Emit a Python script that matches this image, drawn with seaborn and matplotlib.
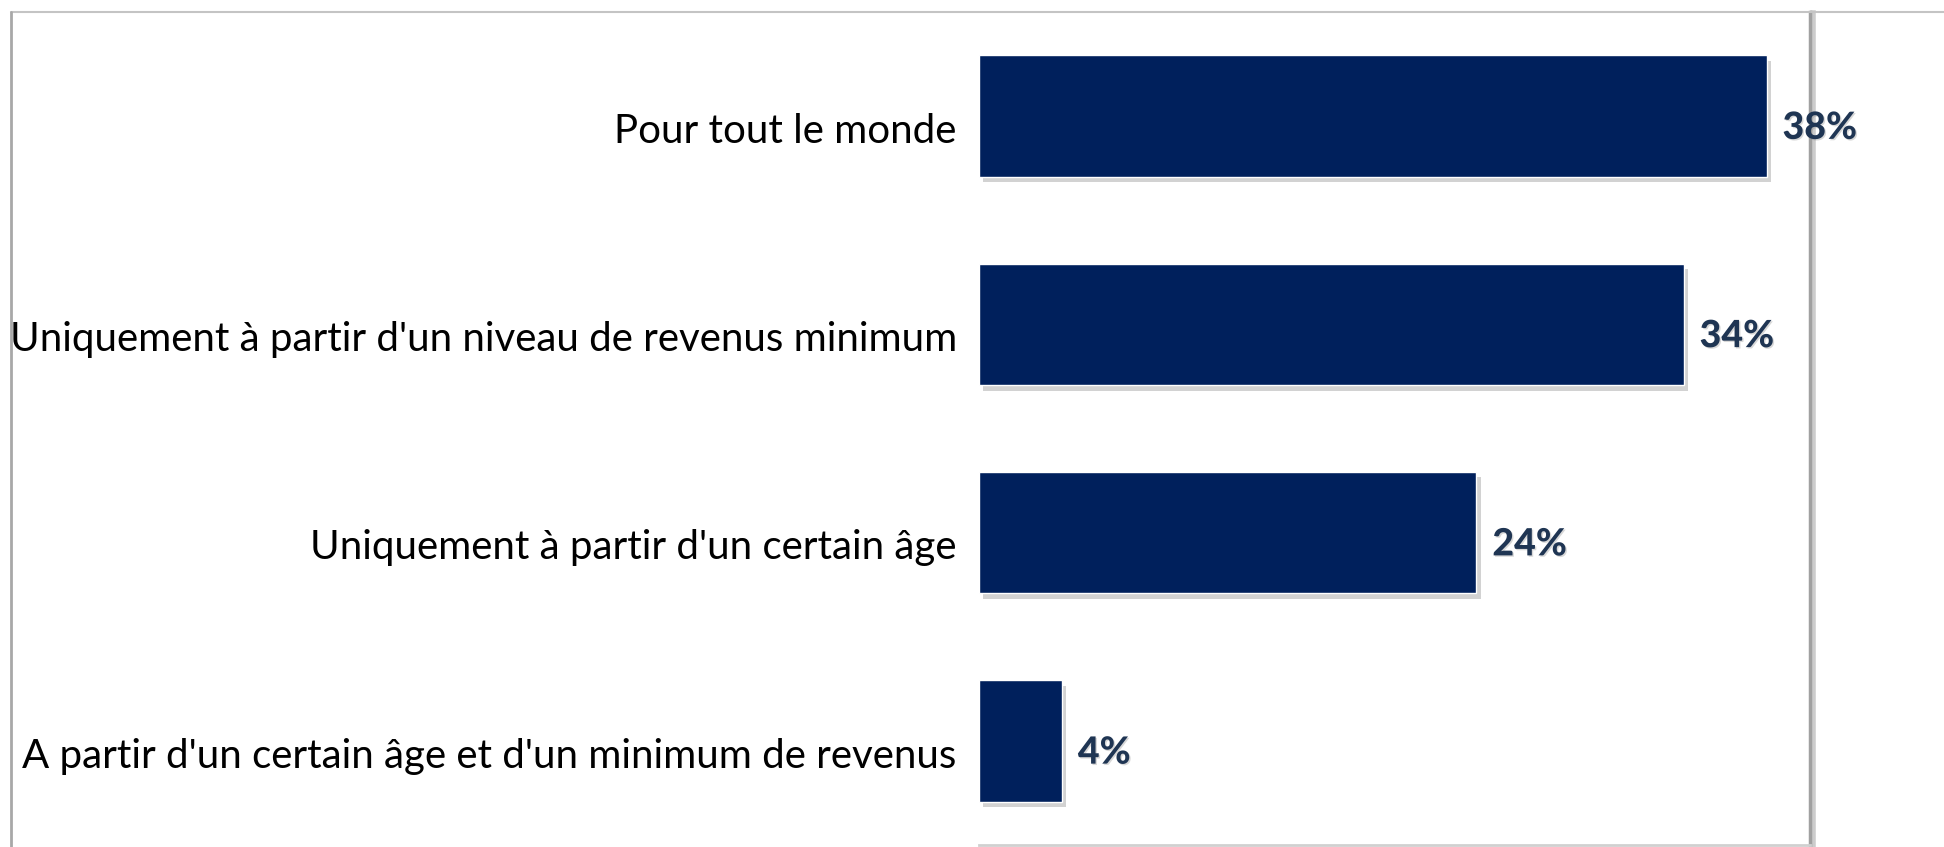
import matplotlib.pyplot as plt
import matplotlib.patheffects as pe
import matplotlib.transforms as mtransforms
from matplotlib.lines import Line2D
import pandas as pd
import seaborn as sns

categories = [
    "Pour tout le monde",
    "Uniquement à partir d'un niveau de revenus minimum",
    "Uniquement à partir d'un certain âge",
    "A partir d'un certain âge et d'un minimum de revenus",
]
values = [38, 34, 24, 4]
value_labels = [f"{v}%" for v in values]

bar_color = "#00205c"
label_color = "#1f3553"

df = pd.DataFrame({"categorie": categories, "pct": values})

sns.set_theme(style="white")
plt.rcParams["font.family"] = ["Lato", "DejaVu Sans"]

fig = plt.figure(figsize=(19.44, 8.47), dpi=100)
ax = fig.add_axes([0.5036, 0.0024, 0.4275, 0.9835])

sns.barplot(
    data=df, x="pct", y="categorie", orient="h",
    color=bar_color, saturation=1, width=0.583, ax=ax,
)

# petite ombre sous les barres
for patch in ax.patches:
    patch.set_path_effects([
        pe.SimplePatchShadow(offset=(3, -4), shadow_rgbFace="gray", alpha=0.35),
        pe.Normal(),
    ])

anns = ax.bar_label(
    ax.containers[0], labels=value_labels, padding=11.5,
    fontsize=27, fontweight=900, color=label_color,
)
for ann in anns:
    ann.xyann = (11.5, -8.5)
    ann.set_path_effects([
        pe.withSimplePatchShadow(offset=(1, -1), shadow_rgbFace="gray", alpha=0.3)
    ])

ax.set_xlim(0, 40.1)
ax.set_ylim(3.5, -0.5)
ax.set_xticks([])
ax.set_xlabel("")
ax.set_ylabel("")
ax.tick_params(axis="y", length=0, pad=16, labelsize=29, labelcolor="black")

# le texte des catégories est un peu plus bas que le centre des barres
shift = mtransforms.ScaledTranslation(0, -8.5 / 72, fig.dpi_scale_trans)
for lab in ax.get_yticklabels():
    lab.set_transform(lab.get_transform() + shift)

ax.spines["left"].set_visible(False)
ax.spines["top"].set_visible(False)
ax.spines["right"].set_color("#a0a0a0")
ax.spines["right"].set_linewidth(2.5)
ax.spines["right"].set_path_effects([
    pe.SimpleLineShadow(offset=(2, -1), shadow_color="gray", alpha=0.4, linewidth=4),
    pe.Normal(),
])
ax.spines["bottom"].set_color("#d0d0d0")
ax.spines["bottom"].set_linewidth(2)

# cadre extérieur (haut et gauche)
fig.add_artist(Line2D([11 / 1944, 1], [1 - 12 / 847] * 2,
                      transform=fig.transFigure, color="#c4c4c4", lw=1.5))
fig.add_artist(Line2D([11 / 1944] * 2, [0, 1 - 12 / 847],
                      transform=fig.transFigure, color="#a8a8a8", lw=2))

fig.savefig("out.png", dpi=100)
